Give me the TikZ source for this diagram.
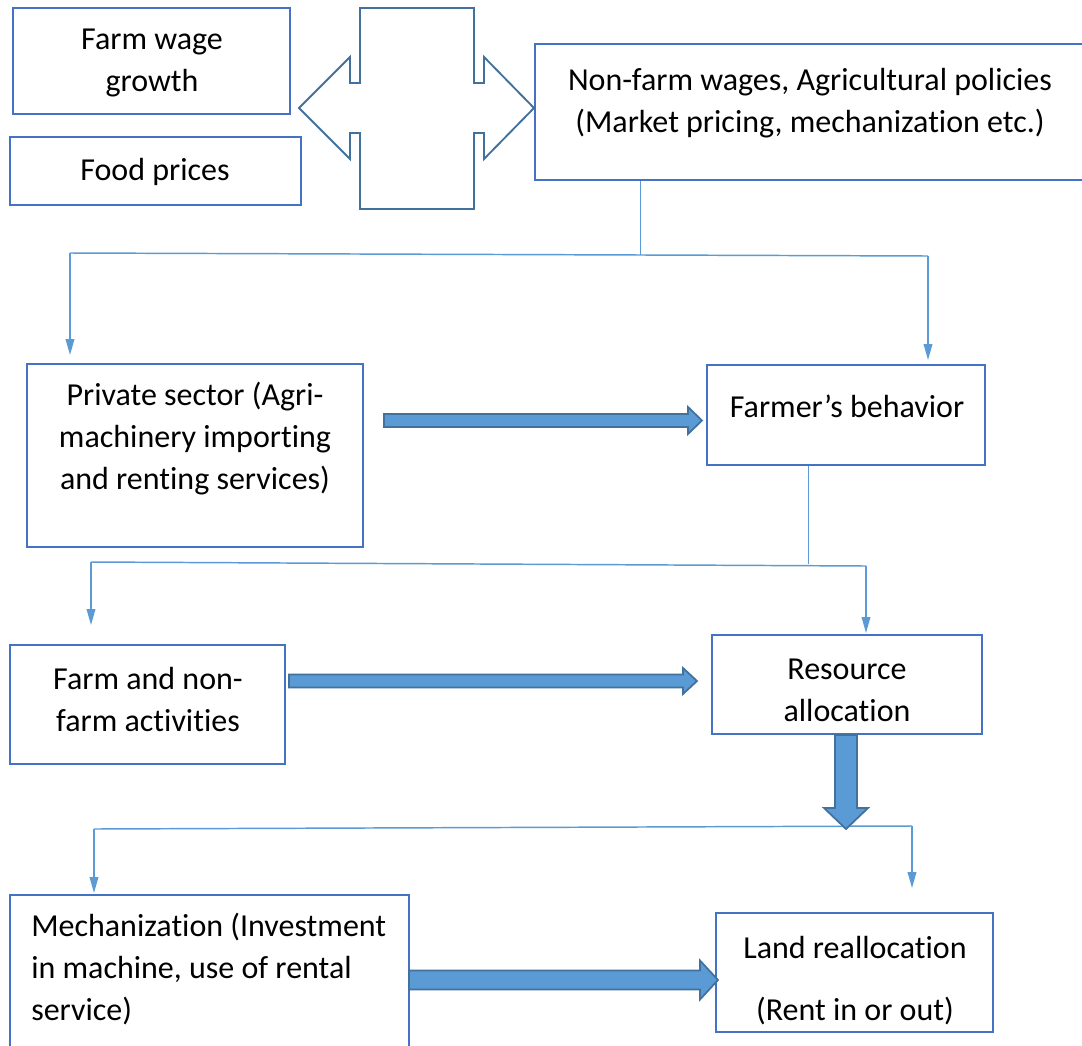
\documentclass[tikz,border=0pt]{standalone}
\usepackage{fontspec}
\setmainfont{Carlito}[RawFeature={-liga;-clig;-calt;-dlig}]
\usetikzlibrary{arrows.meta,fit}
\definecolor{boxblue}{HTML}{4472C4}
\definecolor{lineblue}{HTML}{5B9BD5}
\definecolor{darkblue}{HTML}{41719C}
\newcommand\myharrow[6]{% x1,x2,y,shaft half,head half,head length
  \filldraw[blk] (#1,#3-#4) -- (#2-#6,#3-#4) -- (#2-#6,#3-#5) -- (#2,#3) -- (#2-#6,#3+#5) -- (#2-#6,#3+#4) -- (#1,#3+#4) -- cycle;}
\newcommand\myvarrow[6]{% x,y1,y2,shaft half,head half,head length
  \filldraw[blk] (#1-#4,#2) -- (#1-#4,#3-#6) -- (#1-#5,#3-#6) -- (#1,#3) -- (#1+#5,#3-#6) -- (#1+#4,#3-#6) -- (#1+#4,#2) -- cycle;}
\begin{document}
\begin{tikzpicture}[x=0.75pt,y=-0.75pt,
  box/.style={draw=boxblue,line width=1.6pt,inner sep=0pt},
  txt/.style={font=\fontsize{24}{31.5}\selectfont,align=center,inner sep=0pt},
  conn/.style={draw=lineblue,line width=1.1pt},
  stem/.style={draw=lineblue,line width=0.7pt},
  tip/.style={-{Triangle[length=12pt,width=6.5pt]}},
  blk/.style={fill=lineblue,draw=darkblue,line width=1.3pt,line join=miter}]
\useasboundingbox[fill=white] (0,0) rectangle (1082,1046);

% boxes
\node[box,fit={(13,8)(290,114)}] (fw) {};
\node[box,fit={(10,137)(301,205)}] (fp) {};
\node[box,fit={(535,44)(1100,180)}] (nf) {};
\node[box,fit={(27,364)(363,547)}] (ps) {};
\node[box,fit={(707,365)(985,465)}] (fb) {};
\node[box,fit={(10,645)(285,764)}] (fa) {};
\node[box,fit={(712,635)(982,734)}] (ra) {};
\node[box,fit={(10,895)(409,1070)}] (me) {};
\node[box,fit={(716,913)(993,1032)}] (lr) {};

% texts
\node[txt] (fwt) at (152,63) {Farm wage\\growth};
\node[txt] (fpt) at (155,172) {Food prices};
\node[txt] (nft) at (810,103) {Non-farm wages, Agricultural policies\\(Market pricing, mechanization etc.)};
\node[txt] (pst) at (195,439) {Private sector (Agri-\\machinery importing\\and renting services)};
\node[txt] (fbt) at (847,406) {Farmer’s behavior};
\node[txt] (fat) at (148,699) {Farm and non-\\farm activities};
\node[txt] (rat) at (847,690) {Resource\\allocation};
\node[txt,align=left,anchor=west] (met) at (31,969) {Mechanization (Investment\\in machine, use of rental\\service)};
\node[txt] (lrt1) at (855,947) {Land reallocation};
\node[txt] (lrt2) at (855,1011) {(Rent in or out)};

% double arrow shape
\draw[darkblue,line width=1.4pt,fill=white,line join=miter]
  (360,8) -- (474,8) -- (474,83) -- (484,83) -- (484,57) -- (534,108) -- (484,159) -- (484,133) -- (474,133) -- (474,209)
  -- (360,209) -- (360,133) -- (350,133) -- (350,159) -- (299,108) -- (350,57) -- (350,83) -- (360,83) -- cycle;

% tree 1
\coordinate (j1) at (640,254.5);
\coordinate (h1a) at (70,253);
\coordinate (h1b) at (928,256);
\coordinate (t1a) at (70,355);
\coordinate (t1b) at (928,360);
\draw[stem] (j1 |- nf.south) -- (j1);
\draw[conn] (h1a) -- (h1b);
\draw[conn,tip] (h1a) -- (t1a);
\draw[conn,tip] (h1b) -- (t1b);

% tree 2
\coordinate (j2) at (808,564);
\coordinate (h2a) at (91,562);
\coordinate (h2b) at (866,566);
\coordinate (t2a) at (91,625);
\coordinate (t2b) at (866,633);
\draw[stem] (j2 |- fb.south) -- (j2);
\draw[conn] (h2a) -- (h2b);
\draw[conn,tip] (h2a) -- (t2a);
\draw[conn,tip] (h2b) -- (t2b);

% tree 3
\coordinate (h3a) at (94,829);
\coordinate (h3b) at (912,826);
\coordinate (t3a) at (94,893);
\coordinate (t3b) at (912,888);
\draw[conn] (h3a) -- (h3b);
\draw[conn,tip] (h3a) -- (t3a);
\draw[conn,tip] (h3b) -- (t3b);

% block arrows
\myharrow{384}{702}{420.5}{6.5}{13.5}{14}
\myharrow{289}{697}{681}{6.5}{13}{14}
\myharrow{409}{718}{980}{9.5}{19.5}{18}
\myvarrow{846}{735}{829}{11}{22}{21}
\end{tikzpicture}
\end{document}
